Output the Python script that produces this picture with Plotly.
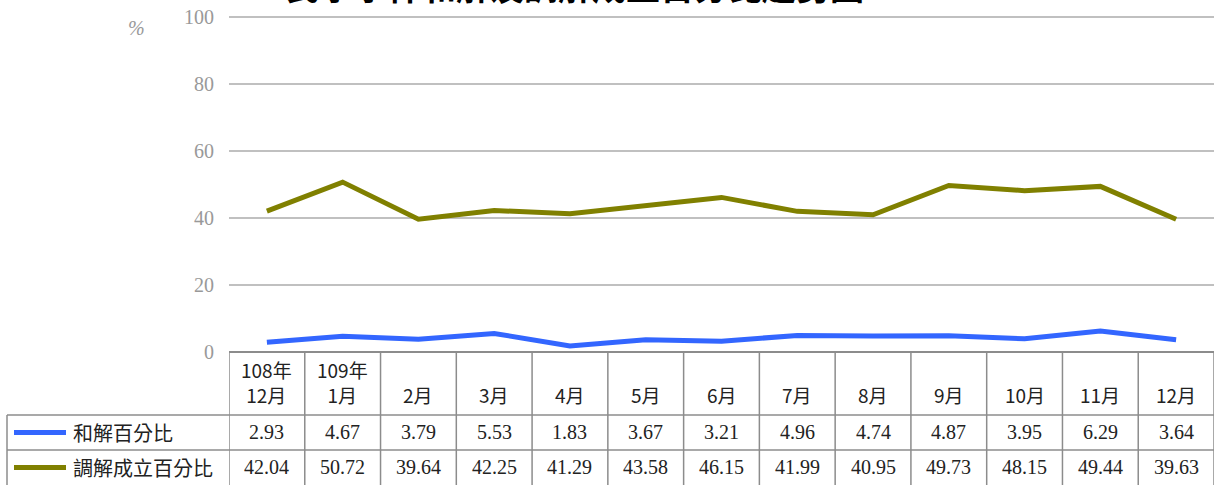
import plotly.graph_objects as go

# ---- data ----
months = ["108年<br>12月", "109年<br>1月", "2月", "3月", "4月", "5月", "6月",
          "7月", "8月", "9月", "10月", "11月", "12月"]
series_names = ["和解百分比", "調解成立百分比"]
settle_pct = [2.93, 4.67, 3.79, 5.53, 1.83, 3.67, 3.21, 4.96, 4.74, 4.87, 3.95, 6.29, 3.64]
mediation_pct = [42.04, 50.72, 39.64, 42.25, 41.29, 43.58, 46.15, 41.99, 40.95, 49.73, 48.15, 49.44, 39.63]
series_values = [settle_pct, mediation_pct]
y_ticks = [0, 20, 40, 60, 80, 100]
colors = ["#3366FF", "#808000"]
title_text = "民事事件和解及調解成立百分比趨勢圖"

# ---- layout constants (screen pixels) ----
W, H = 1216, 485
plot_left, plot_right = 229, 1214
y100_px, plot_bot = 17, 352          # pixel rows of value 100 and value 0
y_top_val = 101.5                    # small headroom so the 100 gridline is not clipped
PH = (plot_bot - y100_px) * y_top_val / 100
ML = plot_left
MR = W - plot_right
MB = H - plot_bot
MT = H - MB - PH
PW = W - ML - MR
label_left_px = 7
header_h, row_h = 63, 35

def py(px_below_plot):
    """paper y for a pixel offset below the plot bottom"""
    return -px_below_plot / PH

def px_x(screen_px):
    return (screen_px - plot_left) / PW

def py_screen(screen_py):
    return (plot_bot - screen_py) / PH

serif = "Liberation Serif, Noto Sans CJK TC, serif"
cjk = "Noto Sans CJK TC, Liberation Serif, serif"
grid_col = "#c0c0c0"
border_col = "#8c8c8c"

n = len(months)
xs = list(range(n))

fig = go.Figure()
for name, vals, col in zip(series_names, series_values, colors):
    fig.add_trace(go.Scatter(x=xs, y=vals, mode="lines", name=name,
                             line=dict(color=col, width=5), hoverinfo="x+y"))

shapes = []
annotations = []

y_header_bot = py(header_h)
y_row1_bot = py(header_h + row_h)
y_row2_bot = py(header_h + 2 * row_h + 5)
shapes.append(dict(type="line", xref="x", yref="paper", x0=-0.5, x1=n - 0.5,
                   y0=0, y1=0, line=dict(color=border_col, width=2)))
for yy in (y_header_bot, y_row1_bot):
    shapes.append(dict(type="line", xref="paper", yref="paper",
                       x0=px_x(label_left_px), x1=1, y0=yy, y1=yy,
                       line=dict(color=border_col, width=1.5)))
for i in range(n + 1):
    shapes.append(dict(type="line", xref="x", yref="paper", x0=i - 0.5, x1=i - 0.5,
                       y0=0, y1=y_row2_bot, line=dict(color=border_col, width=1.5)))
shapes.append(dict(type="line", xref="paper", yref="paper",
                   x0=px_x(label_left_px), x1=px_x(label_left_px),
                   y0=y_header_bot, y1=y_row2_bot, line=dict(color=border_col, width=1.5)))

for i, m in enumerate(months):
    annotations.append(dict(x=i, y=py(header_h - 5), xref="x", yref="paper",
                            text=m, showarrow=False, yanchor="bottom", xanchor="center",
                            font=dict(family=cjk, size=19, color="#222")))

row_centers = [py(header_h + row_h / 2), py(header_h + row_h * 1.5)]
for r, (name, vals, col) in enumerate(zip(series_names, series_values, colors)):
    yc = row_centers[r]
    shapes.append(dict(type="line", xref="paper", yref="paper",
                       x0=px_x(14), x1=px_x(66), y0=yc, y1=yc,
                       line=dict(color=col, width=5)))
    annotations.append(dict(x=px_x(71), y=yc, xref="paper", yref="paper", text=name,
                            showarrow=False, xanchor="left", yanchor="middle",
                            font=dict(family=cjk, size=20, color="#222")))
    for i, v in enumerate(vals):
        annotations.append(dict(x=i, y=yc, xref="x", yref="paper", text=f"{v:.2f}",
                                showarrow=False, xanchor="center", yanchor="middle",
                                font=dict(family=serif, size=20, color="#222")))

annotations.append(dict(x=px_x(136), y=py_screen(28), xref="paper", yref="paper",
                        text="<i>%</i>", showarrow=False, xanchor="center", yanchor="middle",
                        font=dict(family=serif, size=20, color="#999")))
annotations.append(dict(x=px_x(575), y=py_screen(12), xref="paper", yref="paper",
                        text=f"<b>{title_text}</b>", showarrow=False, xanchor="center",
                        yanchor="bottom", font=dict(family=cjk, size=34, color="#000")))

fig.update_layout(
    width=W, height=H,
    margin=dict(l=ML, r=MR, t=MT, b=MB, pad=0),
    paper_bgcolor="white", plot_bgcolor="white",
    showlegend=False,
    shapes=shapes, annotations=annotations,
    xaxis=dict(range=[-0.5, n - 0.5], showticklabels=False, showgrid=False,
               zeroline=False, showline=False, ticks=""),
    yaxis=dict(range=[0, y_top_val], tickvals=y_ticks, showgrid=True,
               gridcolor=grid_col, gridwidth=2,
               zeroline=False, showline=False, ticks="", ticklabelstandoff=14,
               tickfont=dict(family=serif, size=20, color="#999")),
)

fig.write_html("out.html", config={"displayModeBar": False},
               post_script="document.body.style.margin='0';document.body.style.overflow='hidden';")
